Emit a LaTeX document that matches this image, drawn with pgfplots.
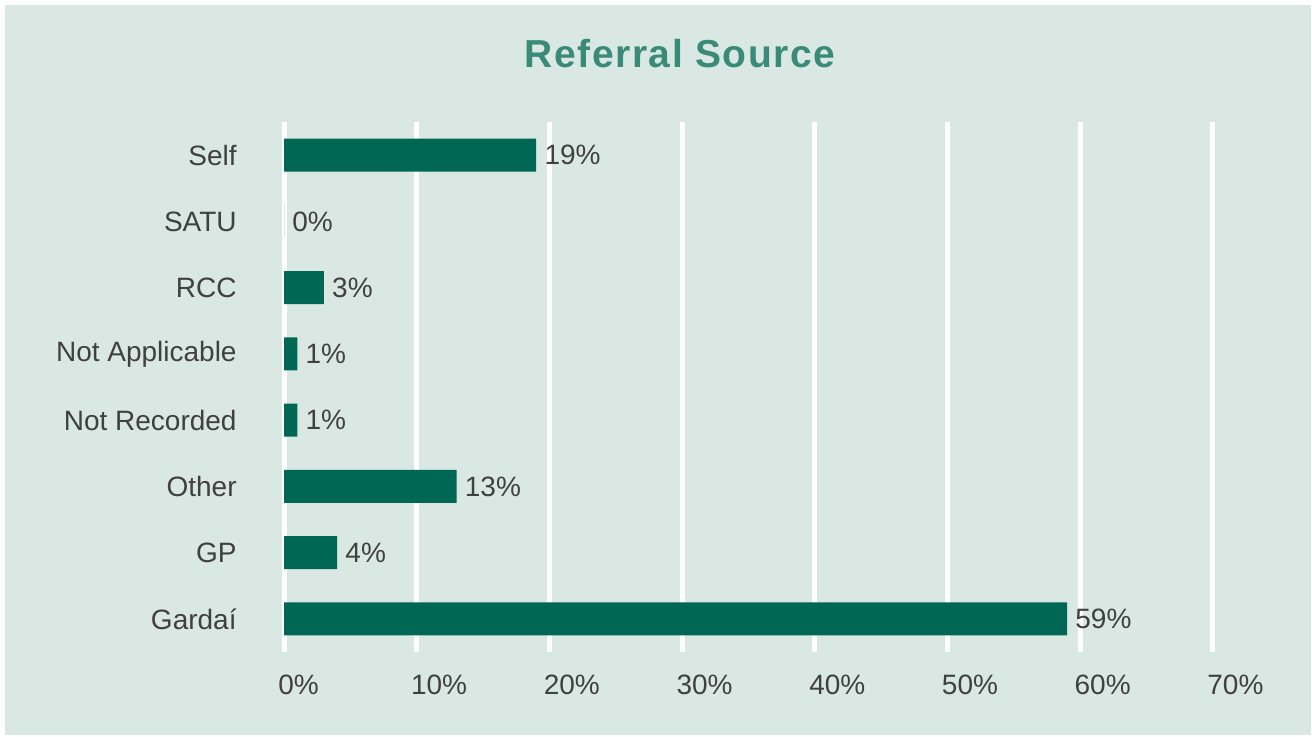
\documentclass[border=0pt]{standalone}
\usepackage{pgfplots}
\pgfplotsset{compat=1.18}
\usepackage{fontspec}
\setmainfont{Liberation Sans}
\definecolor{bgc}{RGB}{218,232,228}
\definecolor{barc}{RGB}{0,103,84}
\definecolor{titlec}{RGB}{58,138,120}
\definecolor{txtc}{RGB}{64,64,64}
\begin{document}
\begin{tikzpicture}
\fill[white] (0pt,0pt) rectangle (656pt,368.5pt);
\fill[bgc] (2.5pt,1pt) rectangle (655.5pt,366pt);
\node[font=\fontsize{19.5}{22}\selectfont\bfseries\addfontfeatures{LetterSpace=4}, text=titlec] at (340pt,341.5pt) {Referral Source};
\begin{axis}[
  at={(142pt,42.5pt)}, anchor=south west,
  scale only axis, width=464.5pt, height=265pt,
  xbar, bar width=16.5pt,
  xmin=0, xmax=70, ymin=-0.5, ymax=7.5,
  axis line style={draw=none},
  major tick length=0pt,
  xtick={0,10,20,30,40,50,60,70},
  xticklabels={0\%,10\%,20\%,30\%,40\%,50\%,60\%,70\%},
  ytick={0,1,2,3,4,5,6,7},
  yticklabels={Garda\'{\i},GP,Other,Not Recorded,Not Applicable,RCC,SATU,Self},
  xmajorgrids, grid style={white, line width=2.5pt},
  ymajorgrids=false,
  tick label style={font=\fontsize{14}{16}\selectfont, text=txtc, inner sep=0pt},
  xticklabel style={anchor=north west, xshift=-3pt, yshift=-11.5pt},
  yticklabel style={anchor=east, xshift=-23.5pt},
  /pgf/number format/assume math mode=true,
  nodes near coords={\pgfmathprintnumber\pgfplotspointmeta\%},
  nodes near coords style={font=\fontsize{14}{16}\selectfont, text=txtc, anchor=west, inner sep=0pt, xshift=4pt},
  clip=false,
]
\addplot[fill=barc, draw=none] coordinates {
  (59,0) (4,1) (13,2) (1,3) (1,4) (3,5) (0,6) (19,7)
};
\end{axis}
\end{tikzpicture}
\end{document}
